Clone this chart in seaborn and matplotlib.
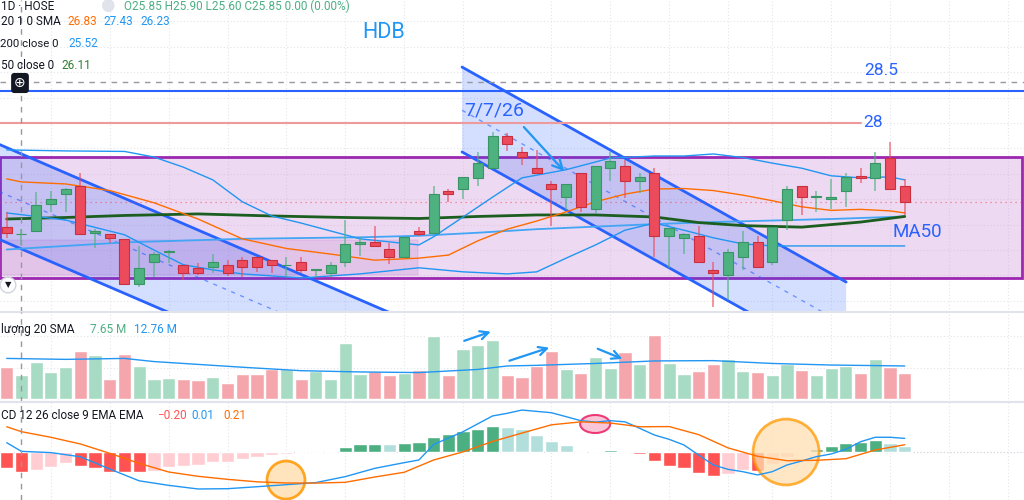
import numpy as np
import matplotlib
matplotlib.use("Agg")
import matplotlib.pyplot as plt
from matplotlib.patches import Rectangle, Polygon, Ellipse
import seaborn as sns

# daily candles, HDB (HOSE)
opens = [25.96, 25.81, 25.87, 26.40, 26.60, 26.76, 25.83, 25.82, 25.71, 24.84,
         25.26, 25.46, 25.20, 25.15, 25.16, 25.20, 25.30, 25.36, 25.31, 25.20,
         25.26, 25.11, 25.05, 25.27, 25.62, 25.66, 25.52, 25.36, 25.87, 25.83,
         26.66, 26.70, 26.91, 27.11, 27.74, 27.42, 27.11, 26.80, 26.55, 27.01,
         26.30, 27.11, 27.16, 26.85, 27.01, 25.78, 25.73, 25.78, 25.10, 25.01,
         25.36, 25.65, 25.26, 26.10, 26.75, 26.55, 26.50, 26.66, 26.96, 26.91,
         27.32, 26.75]
highs = [26.25, 25.91, 26.64, 26.66, 26.72, 27.01, 25.91, 25.82, 25.71, 25.57,
         25.47, 25.50, 25.20, 25.25, 25.42, 25.30, 25.37, 25.36, 25.31, 25.37,
         25.37, 25.12, 25.26, 26.09, 25.75, 25.97, 25.63, 25.76, 25.96, 26.75,
         26.70, 26.94, 27.42, 27.83, 27.80, 27.52, 27.47, 26.86, 26.80, 27.01,
         27.16, 27.42, 27.27, 27.01, 27.11, 25.93, 25.82, 25.97, 25.26, 25.51,
         25.87, 25.78, 25.96, 26.76, 26.75, 26.67, 26.89, 27.01, 27.11, 27.42,
         27.63, 26.89]
lows = [25.73, 25.60, 25.87, 26.25, 26.25, 25.82, 25.53, 25.63, 24.84, 24.77,
        24.96, 25.24, 24.91, 25.01, 25.05, 24.99, 24.97, 25.07, 25.05, 24.97,
        25.05, 24.97, 24.96, 25.17, 25.38, 25.57, 25.22, 25.36, 25.78, 25.83,
        26.45, 26.50, 26.76, 27.11, 27.44, 27.17, 27.01, 25.97, 26.29, 26.25,
        26.22, 26.86, 26.52, 26.62, 25.37, 25.14, 25.42, 25.26, 24.38, 24.52,
        25.11, 25.16, 25.20, 25.89, 26.19, 26.25, 26.30, 26.34, 26.81, 26.67,
        26.70, 26.19]
closes = [25.83, 25.82, 26.38, 26.50, 26.70, 25.82, 25.88, 25.73, 24.84, 25.15,
          25.42, 25.47, 25.05, 25.05, 25.26, 25.05, 25.16, 25.16, 25.21, 25.21,
          25.11, 25.11, 25.20, 25.61, 25.66, 25.57, 25.36, 25.76, 25.82, 26.60,
          26.60, 26.94, 27.21, 27.74, 27.59, 27.33, 27.01, 26.70, 26.80, 26.34,
          27.16, 27.26, 26.86, 26.94, 25.78, 25.93, 25.82, 25.26, 25.05, 25.47,
          25.65, 25.16, 25.96, 26.70, 26.55, 26.56, 26.55, 26.94, 26.91, 27.21,
          26.70, 26.45]

# volume, millions of shares
volume = [10.4, 7.65, 12.0, 8.6, 10.3, 15.4, 14.0, 6.6, 14.5, 10.5,
          6.6, 6.8, 6.6, 6.1, 7.2, 5.1, 8.2, 8.2, 9.6, 9.5,
          6.6, 9.1, 6.6, 17.9, 8.2, 9.0, 7.7, 8.3, 9.3, 20.1,
          7.8, 16.1, 17.3, 18.7, 7.6, 7.0, 10.7, 15.3, 9.6, 8.4,
          13.4, 9.9, 14.9, 11.3, 20.5, 11.7, 8.0, 9.0, 11.3, 12.7,
          9.0, 8.8, 7.7, 11.1, 9.3, 7.6, 9.9, 10.6, 8.4, 12.7,
          10.4, 8.4]
vol_sma_idx = [0, 4, 8, 10, 12, 16, 20, 24, 28, 32, 34, 36, 40, 44, 48, 52, 56, 61]
vol_sma = [13.0, 12.7, 13.0, 12.0, 11.4, 10.2, 9.1, 8.7, 8.5, 9.5, 10.6, 10.8,
           11.4, 12.2, 12.3, 11.4, 10.9, 10.6]

# Bollinger 20
bb_mid_idx = [0, 1, 4, 7, 10, 13, 16, 19, 22, 25, 28, 30, 32, 34, 36, 38, 40,
              42, 44, 46, 48, 50, 52, 54, 56, 58, 60, 61]
bb_mid = [26.90, 26.84, 26.80, 26.67, 26.43, 26.11, 25.72, 25.53, 25.42, 25.30,
          25.34, 25.40, 25.68, 25.91, 26.07, 26.25, 26.45, 26.60, 26.70, 26.71,
          26.67, 26.58, 26.47, 26.35, 26.28, 26.30, 26.27, 26.23]
bb_up_idx = [0, 4, 8, 10, 12, 14, 16, 18, 20, 24, 28, 29, 31, 33, 35, 38, 41,
             44, 46, 48, 50, 52, 54, 56, 58, 60, 61]
bb_up = [27.47, 27.45, 27.44, 27.33, 27.13, 26.88, 26.45, 26.17, 26.03, 25.72,
         25.60, 25.76, 26.15, 26.54, 26.92, 27.08, 27.31, 27.35, 27.35, 27.39,
         27.32, 27.21, 27.11, 26.96, 26.92, 26.94, 26.88]
bb_lo_idx = [0, 4, 8, 10, 12, 14, 16, 20, 24, 28, 31, 34, 36, 38, 40, 42, 44,
             46, 48, 50, 52, 56, 61]
bb_lo = [26.23, 26.09, 25.80, 25.50, 25.21, 25.11, 25.03, 24.95, 25.03, 25.15,
         25.07, 25.03, 25.07, 25.34, 25.60, 25.89, 26.03, 25.89, 25.74, 25.62,
         25.58, 25.58, 25.58]

ma50_idx = [0, 4, 8, 13, 18, 23, 28, 32, 36, 40, 44, 47, 50, 54, 58, 61]
ma50 = [26.11, 26.14, 26.18, 26.21, 26.17, 26.14, 26.12, 26.16, 26.19, 26.19,
        26.15, 26.04, 25.98, 25.95, 26.05, 26.16]
ma200_idx = [0, 8, 16, 24, 28, 32, 36, 40, 44, 48, 52, 56, 61]
ma200 = [25.51, 25.65, 25.72, 25.75, 25.78, 25.84, 25.91, 25.96, 26.01, 26.05,
         26.08, 26.11, 26.16]

# MACD 12 26 9
macd_hist = [-0.163, -0.200, -0.180, -0.146, -0.112, -0.136, -0.163, -0.197, -0.197, -0.197,
             -0.186, -0.146, -0.139, -0.129, -0.100, -0.095, -0.071, -0.051, -0.027, -0.017,
             0.004, 0.005, 0.017, 0.058, 0.081, 0.088, 0.081, 0.098, 0.108, 0.153,
             0.186, 0.214, 0.234, 0.268, 0.258, 0.234, 0.180, 0.115, 0.075, 0.004,
             0.017, 0.024, 0.002, -0.017, -0.092, -0.136, -0.163, -0.214, -0.241, -0.224,
             -0.180, -0.190, -0.122, -0.044, 0.014, 0.037, 0.061, 0.098, 0.108, 0.129,
             0.098, 0.064]
macd_idx = [0, 1, 3, 5, 7, 9, 11, 13, 15, 17, 19, 21, 23, 25, 27, 28, 29, 31, 33,
            34, 35, 37, 39, 40, 41, 42, 43, 44, 45, 46, 47, 48, 49, 50, 51, 52, 53,
            54, 55, 56, 57, 58, 59, 60, 61]
macd_line = [0.098, 0.010, -0.003, -0.045, -0.170, -0.290, -0.336, -0.373, -0.370, -0.350,
             -0.329, -0.308, -0.247, -0.163, -0.105, -0.078, 0.080, 0.210, 0.370, 0.397,
             0.430, 0.403, 0.322, 0.308, 0.322, 0.310, 0.244, 0.176, 0.132, 0.075,
             -0.027, -0.129, -0.173, -0.197, -0.230, -0.197, -0.129, -0.088, -0.044, -0.017,
             0.031, 0.108, 0.153, 0.153, 0.142]
signal_idx = [0, 1, 3, 5, 7, 9, 11, 13, 15, 17, 19, 21, 23, 25, 27, 29, 31, 33, 35,
              37, 39, 41, 43, 45, 47, 49, 51, 53, 55, 57, 59, 61]
signal_line = [0.260, 0.210, 0.153, 0.085, -0.010, -0.112, -0.200, -0.244, -0.275, -0.300,
               -0.312, -0.313, -0.305, -0.251, -0.203, -0.078, 0.005, 0.110, 0.196, 0.280,
               0.310, 0.298, 0.260, 0.262, 0.180, 0.045, -0.040, -0.085, -0.081, -0.065,
               0.024, 0.077]

grid_idx = [3, 7, 11, 15, 19, 23, 27, 31, 37, 41, 45, 49, 52, 56, 60, 64, 68]

UP, DOWN = "#4db27f", "#ec4b5b"
UP_EDGE, DOWN_EDGE = "#3a9465", "#c8303f"
BLUE, ORANGE = "#2196f3", "#ff6d00"
DRAW = "#2962ff"

sns.set_theme(style="white")
plt.rcParams["font.family"] = ["Roboto", "DejaVu Sans"]

fig = plt.figure(figsize=(10.24, 5), dpi=100)
fig.patch.set_facecolor("white")
ax_p = fig.add_axes([0, 188 / 500, 1, 312 / 500])
ax_v = fig.add_axes([0, 98.3 / 500, 1, 89.7 / 500])
ax_m = fig.add_axes([0, 0, 1, 98.3 / 500])

XLIM = (-0.455, 69.1)
for ax in (ax_p, ax_v, ax_m):
    ax.set_xlim(*XLIM)
    ax.set_facecolor("none")
    ax.set_xticks(grid_idx)
    ax.tick_params(left=False, bottom=False, labelleft=False, labelbottom=False)
    ax.grid(True, ls=(0, (1, 2)), color="#e3e5ea", lw=0.8)
    for s in ax.spines.values():
        s.set_visible(False)
for ax in (ax_v, ax_m):
    ax.spines["top"].set_visible(True)
    ax.spines["top"].set_color("#e0e3eb")
    ax.spines["top"].set_linewidth(1.5)

ax_p.set_ylim(24.28, 30.42)
ax_p.set_yticks(np.arange(24.5, 30.5, 0.5))
ax_v.set_ylim(-0.76, 27.76)
ax_v.set_yticks([10, 20])
ax_m.set_ylim(-0.485, 0.515)
ax_m.set_yticks([0])

x = np.arange(len(opens))
o, h, l, c = (np.array(a) for a in (opens, highs, lows, closes))
up = c >= o

# ---- drawings on the price pane
ax_p.add_patch(Rectangle((-0.455, 24.95), 69.42, 27.33 - 24.95, fc="#ce93d8", alpha=0.35,
                         ec="none", zorder=1))
ax_p.add_patch(Rectangle((-0.455, 24.95), 69.42, 27.33 - 24.95, fc="none", ec="#9c27b0",
                         lw=2, zorder=2))
ax_p.add_patch(Rectangle((-0.455, 25.01), 28.4, 25.70 - 25.01, fc="#ab47bc", alpha=0.14,
                         ec="#ba68c8", lw=1.2, zorder=2))

# left falling channel
lc_x = [-1, 28]
lc_up = [27.64, 24.02]
lc_lo = [25.77, 22.15]
lc_mid = [26.71, 23.09]
ax_p.add_patch(Polygon([(lc_x[0], lc_up[0]), (lc_x[1], lc_up[1]), (lc_x[1], lc_lo[1]),
                        (lc_x[0], lc_lo[0])], fc=DRAW, alpha=0.2, ec="none", zorder=2))
ax_p.plot(lc_x, lc_up, color=DRAW, lw=2, zorder=3)
ax_p.plot(lc_x, lc_lo, color=DRAW, lw=2, zorder=3)
ax_p.plot(lc_x, lc_mid, color=DRAW, lw=1, ls=(0, (3, 4)), alpha=0.6, zorder=3)

# middle falling channel
mc_x = [30.93, 57.02]
mc_up = [29.10, 24.87]
mc_lo = [27.43, 23.20]
mc_mid = [28.25, 24.02]
ax_p.add_patch(Polygon([(mc_x[0], mc_up[0]), (mc_x[1], mc_up[1]), (mc_x[1], mc_lo[1]),
                        (mc_x[0], mc_lo[0])], fc=DRAW, alpha=0.2, ec="none", zorder=2))
ax_p.plot(mc_x, mc_up, color=DRAW, lw=2, zorder=3)
ax_p.plot(mc_x, mc_lo, color=DRAW, lw=2, zorder=3)
ax_p.plot(mc_x, mc_mid, color=DRAW, lw=1, ls=(0, (3, 4)), alpha=0.6, zorder=3)

# horizontal levels
ax_p.axhline(28.81, color="#9598a1", lw=1, ls=(0, (4, 4)), zorder=3)
ax_p.axhline(28.63, color=DRAW, lw=1.5, zorder=3)
ax_p.plot([-0.455, 58.0], [28.0, 28.0], color="#ef9a9a", lw=1.5, zorder=3)
ax_p.axhline(closes[-1], color="#f23645", lw=0.9, ls=(0, (1, 3)), alpha=0.6, zorder=3)

# indicator lines
sns.lineplot(x=ma200_idx, y=ma200, ax=ax_p, color="#42a5f5", lw=1.3, zorder=4)
sns.lineplot(x=ma50_idx, y=ma50, ax=ax_p, color="#1b5e20", lw=2, zorder=4)
sns.lineplot(x=bb_up_idx, y=bb_up, ax=ax_p, color=BLUE, lw=1, zorder=4)
sns.lineplot(x=bb_lo_idx, y=bb_lo, ax=ax_p, color=BLUE, lw=1, zorder=4)
sns.lineplot(x=bb_mid_idx, y=bb_mid, ax=ax_p, color=ORANGE, lw=1, zorder=4)

# candles
body_col = np.where(up, UP, DOWN)
edge_col = np.where(up, UP_EDGE, DOWN_EDGE)
ax_p.vlines(x, l, h, colors=body_col, lw=1.1, alpha=0.75, zorder=5)
ax_p.bar(x, np.maximum(np.abs(c - o), 0.014), bottom=np.minimum(o, c), width=0.68,
         color=body_col, edgecolor=edge_col, lw=0.8, zorder=6)

# price-pane labels
ax_p.text(25.6, 29.79, "HDB", color=BLUE, fontsize=15.5, ha="center", va="center", zorder=8)
ax_p.text(58.25, 28.88, "28.5", color=DRAW, fontsize=12.5, ha="left", va="bottom", zorder=8)
ax_p.text(58.2, 28.0, "28", color=DRAW, fontsize=12.5, ha="left", va="center", zorder=8)
ax_p.text(60.2, 25.86, "MA50", color=DRAW, fontsize=13.5, ha="left", va="center", zorder=8)
ax_p.text(31.1, 28.25, "7/7/26", color=DRAW, fontsize=14, ha="left", va="center", zorder=8)
ax_p.annotate("", xy=(38.0, 27.01), xytext=(35.0, 27.96),
              arrowprops=dict(arrowstyle="->", color=BLUE, lw=1.6, mutation_scale=18), zorder=8)

# ---- volume pane
vol_col = np.where(up, "#a7dbc3", "#f5a6ad")
ax_v.bar(x, volume, width=0.9, color=vol_col, zorder=3)
sns.lineplot(x=vol_sma_idx, y=vol_sma, ax=ax_v, color=BLUE, lw=1, zorder=4)
for (x0, y0), (x1, y1) in [((30.9, 18.3), (33.06, 21.8)),
                           ((33.97, 12.0), (37.03, 16.7)),
                           ((39.97, 16.4), (42.0, 12.5))]:
    ax_v.annotate("", xy=(x1, y1), xytext=(x0, y0),
                  arrowprops=dict(arrowstyle="->", color=BLUE, lw=1.6, mutation_scale=15),
                  zorder=6)

# ---- MACD pane
hist = np.array(macd_hist)
rising = np.r_[False, np.diff(hist) > 0]
hcol = np.where(hist >= 0, np.where(rising | (np.arange(len(hist)) == 0), "#4caf82", "#b2dfdb"),
                np.where(rising, "#ffcdd2", "#ff5252"))
ax_m.bar(x, hist, width=0.9, color=hcol, zorder=3)
ax_m.axhline(0, color="#d1d4dc", lw=0.8, ls=(0, (1, 2)), zorder=2)
ax_m.add_patch(Ellipse((18.97, -0.282), 2.58, 0.387, fc="#ffe0b2", ec="#ff9800", lw=2,
                       alpha=0.85, zorder=4))
ax_m.add_patch(Ellipse((52.94, 0.003), 4.48, 0.67, fc="#ffe0b2", ec="#ff9800", lw=2,
                       alpha=0.75, zorder=4))
ax_m.add_patch(Ellipse((39.97, 0.288), 2.04, 0.183, fc="#f8bbd0", ec="#e91e63", lw=1.5,
                       alpha=0.85, zorder=4))
sns.lineplot(x=macd_idx, y=macd_line, ax=ax_m, color=BLUE, lw=1, zorder=5)
sns.lineplot(x=signal_idx, y=signal_line, ax=ax_m, color=ORANGE, lw=1, zorder=5)

# crosshair
for ax in (ax_p, ax_v, ax_m):
    ax.axvline(0.95, color="#9598a1", lw=1, ls=(0, (4, 4)), zorder=7)


def ftext(px, py, s, **kw):
    fig.text(px / 1024, 1 - py / 500, s, **kw)


LEG = dict(fontsize=8.5, va="baseline")
ftext(1, 10, "1D · HOSE", color="#131722", ha="left", **LEG)
ftext(107, 6, "●", color="#e0e3eb", ha="center", va="center", fontsize=12)
ftext(124, 10, "O25.85 H25.90 L25.60 C25.85 0.00 (0.00%)", color="#4caf82", ha="left", **LEG)
ftext(1, 25, "20 1 0 SMA", color="#131722", ha="left", **LEG)
ftext(67, 25, "26.83", color=ORANGE, ha="left", **LEG)
ftext(103, 25, "27.43", color=BLUE, ha="left", **LEG)
ftext(140, 25, "26.23", color=BLUE, ha="left", **LEG)
ftext(0.5, 47.3, "200 close 0", color="#131722", ha="left", fontsize=8.2, va="baseline")
ftext(68, 47.3, "25.52", color=BLUE, ha="left", **LEG)
ftext(1, 69.3, "50 close 0", color="#131722", ha="left", **LEG)
ftext(61, 69.3, "26.11", color="#2e7d32", ha="left", **LEG)
ftext(1, 332.7, "lượng 20 SMA", color="#131722", ha="left", **LEG)
ftext(90, 332.7, "7.65 M", color="#4caf82", ha="left", **LEG)
ftext(134, 332.7, "12.76 M", color=BLUE, ha="left", **LEG)
ftext(1, 419.3, "CD 12 26 close 9 EMA EMA", color="#131722", ha="left", **LEG)
ftext(157, 419.3, "−0.20", color="#ff5252", ha="left", **LEG)
ftext(191, 419.3, "0.01", color=BLUE, ha="left", **LEG)
ftext(223, 419.3, "0.21", color=ORANGE, ha="left", **LEG)

ftext(20, 83, "⊕", color="white", ha="center", va="center", fontsize=10,
      family="DejaVu Sans", bbox=dict(boxstyle="round,pad=0.22", fc="#131722", ec="none"))
ftext(8, 285, "▼", color="#131722", ha="center", va="center", fontsize=6,
      family="DejaVu Sans", bbox=dict(boxstyle="circle,pad=0.4", fc="white", ec="#d1d4dc"))

fig.savefig("out.png", dpi=100)
